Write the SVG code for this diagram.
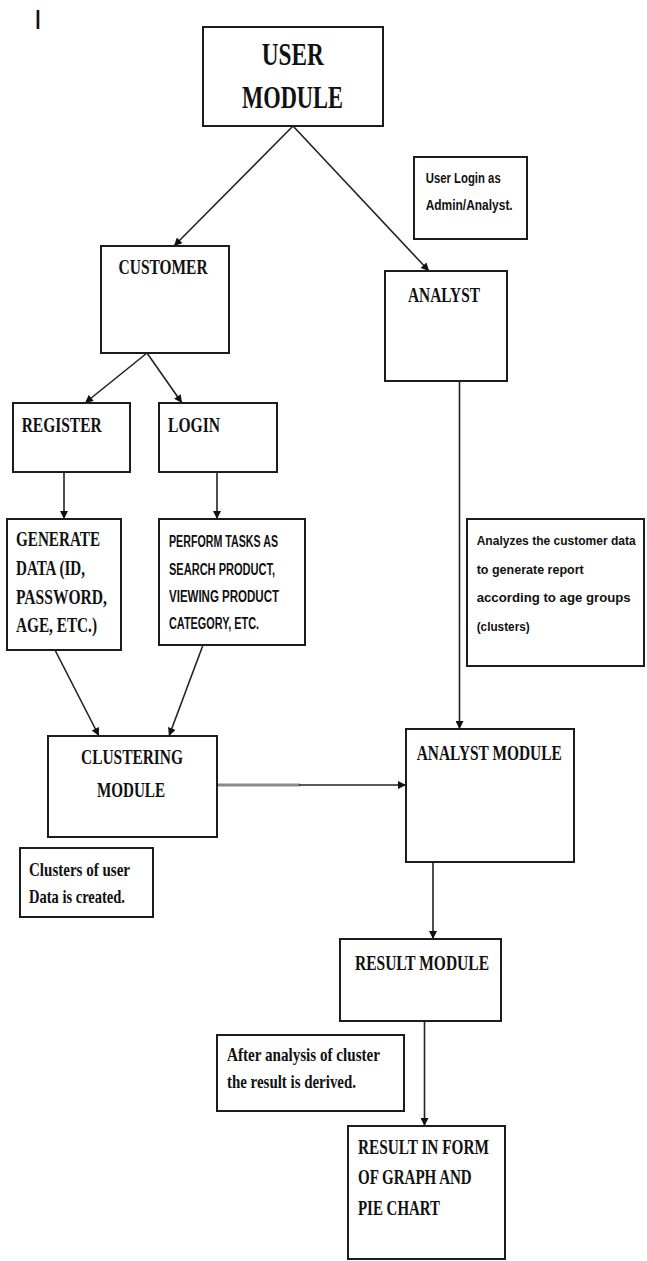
<svg xmlns="http://www.w3.org/2000/svg" width="647" height="1261" viewBox="0 0 647 1261">
<style>
.box{fill:#fff;stroke:#1c1c1c;stroke-width:2}
.t{font-family:"Liberation Serif","Times New Roman",serif;font-weight:bold;fill:#111;font-size:20px}
.s{font-family:"Liberation Sans",Arial,sans-serif;font-weight:bold;fill:#111;font-size:15px}
.c{fill:none;stroke:#222;stroke-width:1.6}
</style>
<defs>
<marker id="ah" viewBox="0 0 10 10" refX="10" refY="5" markerWidth="9" markerHeight="8" markerUnits="userSpaceOnUse" orient="auto">
<path d="M0,0 L10,5 L0,10 z" fill="#111"/>
</marker>
</defs>
<text x="34" y="28.5" style="font-family:'Liberation Sans',Arial,sans-serif;font-size:28px;fill:#111">I</text>
<g id="connectors">
<line class="c" x1="293" y1="126" x2="174" y2="246" marker-end="url(#ah)"/>
<line class="c" x1="293" y1="126" x2="429" y2="271" marker-end="url(#ah)"/>
<line class="c" x1="147" y1="353" x2="85" y2="403" marker-end="url(#ah)"/>
<line class="c" x1="147" y1="353" x2="182" y2="403" marker-end="url(#ah)"/>
<line class="c" x1="64" y1="472" x2="64" y2="519" marker-end="url(#ah)"/>
<line class="c" x1="217" y1="472" x2="217" y2="519" marker-end="url(#ah)"/>
<line class="c" x1="55" y1="650" x2="99" y2="736" marker-end="url(#ah)"/>
<line class="c" x1="203" y1="645" x2="169" y2="736" marker-end="url(#ah)"/>
<line class="c" x1="459.5" y1="381" x2="459.5" y2="729" marker-end="url(#ah)"/>
<line x1="217" y1="785" x2="300" y2="785" stroke="#8a8a8a" stroke-width="3"/>
<line class="c" x1="299" y1="785" x2="406" y2="785" marker-end="url(#ah)"/>
<line class="c" x1="433" y1="862" x2="433" y2="939" marker-end="url(#ah)"/>
<line class="c" x1="424.5" y1="1021" x2="424.5" y2="1126" marker-end="url(#ah)"/>
</g>
<g id="user-module">
<rect class="box" x="203" y="27" width="180" height="99"/>
<text class="t" style="font-size:31px" x="261.7" y="65" textLength="62" lengthAdjust="spacingAndGlyphs">USER</text>
<text class="t" style="font-size:31px" x="242" y="107.5" textLength="101" lengthAdjust="spacingAndGlyphs">MODULE</text>
</g>
<g id="note-login">
<rect class="box" x="414" y="157" width="113" height="82"/>
<text class="s" x="425.7" y="183" textLength="75" lengthAdjust="spacingAndGlyphs">User Login as</text>
<text class="s" x="425.7" y="210" textLength="87" lengthAdjust="spacingAndGlyphs">Admin/Analyst.</text>
</g>
<g id="customer">
<rect class="box" x="101" y="246" width="128" height="107"/>
<text class="t" x="118.6" y="274" textLength="89" lengthAdjust="spacingAndGlyphs">CUSTOMER</text>
</g>
<g id="analyst">
<rect class="box" x="385" y="271" width="122" height="110"/>
<text class="t" x="408" y="301.7" textLength="72" lengthAdjust="spacingAndGlyphs">ANALYST</text>
</g>
<g id="register">
<rect class="box" x="13" y="403" width="117" height="69"/>
<text class="t" x="21.7" y="431.7" textLength="80" lengthAdjust="spacingAndGlyphs">REGISTER</text>
</g>
<g id="login">
<rect class="box" x="159" y="403" width="118" height="69"/>
<text class="t" x="168" y="432" textLength="52" lengthAdjust="spacingAndGlyphs">LOGIN</text>
</g>
<g id="generate">
<rect class="box" x="7" y="519" width="114" height="131"/>
<text class="t" x="16" y="546" textLength="84" lengthAdjust="spacingAndGlyphs">GENERATE</text>
<text class="t" x="16" y="575" textLength="69" lengthAdjust="spacingAndGlyphs">DATA (ID,</text>
<text class="t" x="16" y="604" textLength="91" lengthAdjust="spacingAndGlyphs">PASSWORD,</text>
<text class="t" x="16" y="632" textLength="81" lengthAdjust="spacingAndGlyphs">AGE, ETC.)</text>
</g>
<g id="perform">
<rect class="box" x="159" y="519" width="146" height="126"/>
<text class="s" style="font-size:16px" x="169" y="546.7" textLength="109" lengthAdjust="spacingAndGlyphs">PERFORM TASKS AS</text>
<text class="s" style="font-size:16px" x="169" y="575" textLength="106" lengthAdjust="spacingAndGlyphs">SEARCH PRODUCT,</text>
<text class="s" style="font-size:16px" x="169" y="601.7" textLength="110" lengthAdjust="spacingAndGlyphs">VIEWING PRODUCT</text>
<text class="s" style="font-size:16px" x="169" y="629" textLength="90" lengthAdjust="spacingAndGlyphs">CATEGORY, ETC.</text>
</g>
<g id="note-analyzes">
<rect class="box" x="467" y="519" width="177" height="147"/>
<text class="s" style="font-size:12.5px" x="476.7" y="545" textLength="159" lengthAdjust="spacingAndGlyphs">Analyzes the customer data</text>
<text class="s" style="font-size:12.5px" x="476.7" y="574" textLength="107" lengthAdjust="spacingAndGlyphs">to generate report</text>
<text class="s" style="font-size:12.5px" x="476.7" y="601.7" textLength="154" lengthAdjust="spacingAndGlyphs">according to age groups</text>
<text class="s" style="font-size:12.5px" x="476.7" y="631" textLength="53" lengthAdjust="spacingAndGlyphs">(clusters)</text>
</g>
<g id="clustering">
<rect class="box" x="48" y="736" width="169" height="101"/>
<text class="t" x="81" y="764" textLength="102" lengthAdjust="spacingAndGlyphs">CLUSTERING</text>
<text class="t" x="97" y="796.7" textLength="68" lengthAdjust="spacingAndGlyphs">MODULE</text>
</g>
<g id="note-clusters">
<rect class="box" x="20" y="848" width="133" height="69"/>
<text class="t" style="font-size:19px" x="29" y="875.7" textLength="101" lengthAdjust="spacingAndGlyphs">Clusters of user</text>
<text class="t" style="font-size:19px" x="29" y="903" textLength="96" lengthAdjust="spacingAndGlyphs">Data is created.</text>
</g>
<g id="analyst-module">
<rect class="box" x="406" y="729" width="168" height="133"/>
<text class="t" x="416.7" y="760" textLength="145" lengthAdjust="spacingAndGlyphs">ANALYST MODULE</text>
</g>
<g id="result-module">
<rect class="box" x="340" y="939" width="161" height="82"/>
<text class="t" x="355" y="970" textLength="134" lengthAdjust="spacingAndGlyphs">RESULT MODULE</text>
</g>
<g id="note-result">
<rect class="box" x="217" y="1035" width="187" height="76"/>
<text class="t" style="font-size:19px" x="227" y="1060.7" textLength="153" lengthAdjust="spacingAndGlyphs">After analysis of cluster</text>
<text class="t" style="font-size:19px" x="227" y="1088" textLength="129" lengthAdjust="spacingAndGlyphs">the result is derived.</text>
</g>
<g id="result-form">
<rect class="box" x="348" y="1126" width="157" height="133"/>
<text class="t" x="358" y="1154" textLength="131" lengthAdjust="spacingAndGlyphs">RESULT IN FORM</text>
<text class="t" x="358" y="1184" textLength="113.7" lengthAdjust="spacingAndGlyphs">OF GRAPH AND</text>
<text class="t" x="358" y="1215" textLength="82" lengthAdjust="spacingAndGlyphs">PIE CHART</text>
</g>
</svg>
